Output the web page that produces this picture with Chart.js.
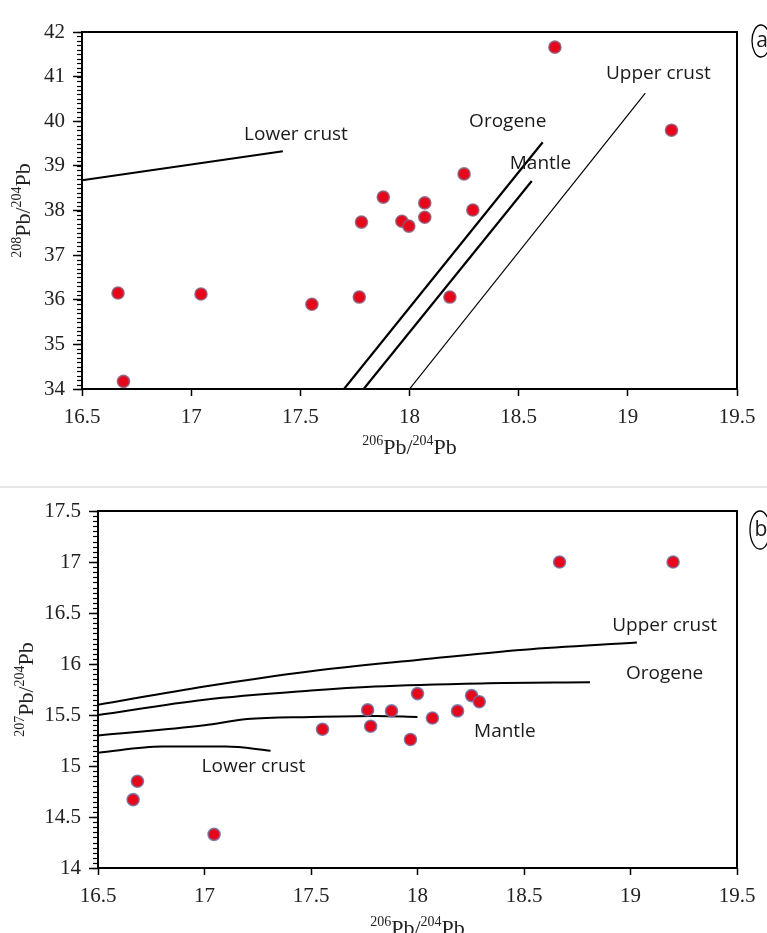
<!DOCTYPE html>
<html>
<head>
<meta charset="utf-8">
<script src="https://cdn.jsdelivr.net/npm/chart.js@4.4.1/dist/chart.umd.min.js"></script>
<style>
  html, body { margin: 0; padding: 0; background: #fff; }
  body { width: 767px; height: 933px; position: relative; overflow: hidden; }
  canvas { position: absolute; left: 0; }
  #chart-a { top: 0; }
  #chart-b { top: 490px; }
  #divider { position: absolute; left: 0; top: 486px; width: 767px; height: 2px; background: #e6e6e6; }
</style>
</head>
<body>
<canvas id="chart-a" width="767" height="470"></canvas>
<div id="divider"></div>
<canvas id="chart-b" width="767" height="443"></canvas>
<script>
// ---- panel (a): 208Pb/204Pb vs 206Pb/204Pb ----
const sampleX_a = [16.665, 16.69, 17.045, 17.553, 17.77, 17.78, 17.88, 17.965, 17.997, 18.07, 18.07, 18.25, 18.29, 18.185, 18.666, 19.20];
const sampleY_a = [36.15, 34.17, 36.13, 35.90, 36.06, 37.74, 38.30, 37.76, 37.65, 38.17, 37.85, 38.82, 38.01, 36.06, 41.66, 39.80];

const lowerCrustX_a = [16.5, 17.0, 17.42];
const lowerCrustY_a = [38.68, 39.03, 39.33];
const orogeneX_a = [17.70, 18.61];
const orogeneY_a = [34.0, 39.53];
const mantleX_a = [17.79, 18.56];
const mantleY_a = [34.0, 38.66];
const upperCrustX_a = [18.0, 19.08];
const upperCrustY_a = [34.0, 40.63];

// ---- panel (b): 207Pb/204Pb vs 206Pb/204Pb ----
const sampleX_b = [16.665, 16.685, 17.045, 17.554, 17.766, 17.78, 17.878, 18.0, 17.967, 18.07, 18.188, 18.254, 18.29, 18.667, 19.20];
const sampleY_b = [14.67, 14.85, 14.33, 15.36, 15.55, 15.39, 15.54, 15.71, 15.26, 15.47, 15.54, 15.69, 15.63, 17.00, 17.00];

const upperCrustX_b = [16.5, 17.0, 17.5, 18.0, 18.5, 19.03];
const upperCrustY_b = [15.60, 15.78, 15.93, 16.04, 16.14, 16.21];
const orogeneX_b = [16.5, 17.0, 17.5, 17.8, 18.3, 18.81];
const orogeneY_b = [15.50, 15.65, 15.74, 15.78, 15.81, 15.82];
const mantleX_b = [16.5, 17.0, 17.2, 17.5, 17.8, 18.0];
const mantleY_b = [15.30, 15.40, 15.46, 15.48, 15.49, 15.48];
const lowerCrustX_b = [16.5, 16.8, 17.1, 17.31];
const lowerCrustY_b = [15.13, 15.19, 15.19, 15.15];

const xMin = 16.5, xMax = 19.5, xStep = 0.5;

const pts = (xs, ys) => xs.map((x, i) => ({ x: x, y: ys[i] }));
const plain = v => String(+v.toFixed(2));

const serif = '"Liberation Serif", "Times New Roman", serif';
const sans = '"Open Sans", "Noto Sans", sans-serif';

function samples(xs, ys, edge) {
  return {
    data: pts(xs, ys),
    backgroundColor: '#e8061b',
    borderColor: edge,
    borderWidth: 1.6,
    pointRadius: 6,
    showLine: false
  };
}

function curve(xs, ys, width, smooth) {
  return {
    data: pts(xs, ys),
    showLine: true,
    borderColor: '#000',
    borderWidth: width,
    pointRadius: 0,
    tension: smooth ? 0.4 : 0,
    cubicInterpolationMode: smooth ? 'monotone' : 'default'
  };
}

// box round the plot
const frame = {
  id: 'frame',
  afterDraw(chart) {
    const { ctx, chartArea: a } = chart;
    ctx.save();
    ctx.strokeStyle = '#000';
    ctx.lineWidth = 2;
    ctx.strokeRect(a.left, a.top, a.right - a.left, a.bottom - a.top);
    ctx.restore();
  }
};

// small ticks on the y axis
const minorTicks = {
  id: 'minorTicks',
  afterDraw(chart, args, opts) {
    const { ctx, chartArea: a } = chart;
    const y = chart.scales.y;
    const n = Math.round((y.max - y.min) / opts.step);
    ctx.save();
    ctx.strokeStyle = '#000';
    ctx.lineWidth = 1.2;
    for (let i = 0; i <= n; i++) {
      const py = Math.round(y.getPixelForValue(y.min + i * opts.step)) + 0.5;
      ctx.beginPath();
      ctx.moveTo(a.left - opts.len, py);
      ctx.lineTo(a.left, py);
      ctx.stroke();
    }
    ctx.restore();
  }
};

// "208Pb/204Pb" style titles with superscripts
function drawRatio(ctx, parts, cx, baseY) {
  const big = '22px ' + serif, small = '14px ' + serif;
  let w = 0;
  parts.forEach(p => { ctx.font = p.sup ? small : big; w += ctx.measureText(p.t).width; });
  let x = cx - w / 2;
  ctx.textAlign = 'left';
  ctx.textBaseline = 'alphabetic';
  parts.forEach(p => {
    ctx.font = p.sup ? small : big;
    ctx.fillText(p.t, x, p.sup ? baseY - 9 : baseY);
    x += ctx.measureText(p.t).width;
  });
}

const titles = {
  id: 'titles',
  afterDraw(chart, args, opts) {
    const { ctx, chartArea: a } = chart;
    ctx.save();
    ctx.fillStyle = '#222';
    drawRatio(ctx, opts.xParts, (a.left + a.right) / 2, a.bottom + opts.xDrop);
    ctx.translate(opts.yBase, (a.top + a.bottom) / 2);
    ctx.rotate(-Math.PI / 2);
    drawRatio(ctx, opts.yParts, 0, 0);
    ctx.restore();
  }
};

// reservoir names and panel tag
const notes = {
  id: 'notes',
  afterDatasetsDraw(chart, args, opts) {
    const { ctx, chartArea: a } = chart;
    const x = chart.scales.x, y = chart.scales.y;
    ctx.save();
    ctx.fillStyle = '#1a1a1a';
    ctx.textAlign = 'center';
    ctx.textBaseline = 'middle';
    ctx.font = '19px ' + sans;
    opts.items.forEach(it => ctx.fillText(it.text, x.getPixelForValue(it.x), y.getPixelForValue(it.y)));
    const cx = a.right + opts.tagDx, cy = a.top + opts.tagDy;
    ctx.strokeStyle = '#000';
    ctx.lineWidth = 1.3;
    ctx.beginPath();
    ctx.ellipse(cx, cy, opts.tagRx, opts.tagRy, 0, 0, Math.PI * 2);
    ctx.stroke();
    ctx.font = '21px ' + sans;
    ctx.fillText(opts.tag, cx + 1, cy);
    ctx.restore();
  }
};

function makeChart(canvasId, cfg) {
  return new Chart(document.getElementById(canvasId), {
    type: 'scatter',
    data: { datasets: cfg.datasets },
    options: {
      responsive: false,
      animation: false,
      events: [],
      layout: { padding: { top: cfg.padTop, right: 30, left: 0, bottom: 0 } },
      plugins: {
        legend: { display: false },
        tooltip: { enabled: false },
        minorTicks: { step: cfg.minorStep, len: 5 },
        titles: cfg.titles,
        notes: cfg.notes
      },
      scales: {
        x: {
          type: 'linear', min: xMin, max: xMax,
          border: { display: false },
          grid: { drawOnChartArea: false, tickLength: 7, tickColor: '#000', tickWidth: 1.5 },
          ticks: { stepSize: xStep, color: '#222', padding: 9, callback: plain, font: { family: serif, size: 21 } },
          afterFit: s => { s.height = cfg.xHeight; }
        },
        y: {
          type: 'linear', min: cfg.yMin, max: cfg.yMax,
          border: { display: false },
          grid: { drawOnChartArea: false, tickLength: 9, tickColor: '#000', tickWidth: 1.5 },
          ticks: { stepSize: cfg.yStep, color: '#222', padding: 8, callback: plain, font: { family: serif, size: 21 } },
          afterFit: s => { s.width = cfg.yWidth; }
        }
      }
    },
    plugins: [minorTicks, frame, titles, notes]
  });
}

const xTitle = [{ t: '206', sup: true }, { t: 'Pb/', sup: false }, { t: '204', sup: true }, { t: 'Pb', sup: false }];

makeChart('chart-a', {
  datasets: [
    samples(sampleX_a, sampleY_a, 'rgba(140,90,120,0.85)'),
    curve(lowerCrustX_a, lowerCrustY_a, 2, false),
    curve(orogeneX_a, orogeneY_a, 2.2, false),
    curve(mantleX_a, mantleY_a, 2.2, false),
    curve(upperCrustX_a, upperCrustY_a, 1.2, false)
  ],
  yMin: 34, yMax: 42, yStep: 1, minorStep: 0.1,
  padTop: 32, xHeight: 81, yWidth: 82,
  titles: {
    xParts: xTitle, xDrop: 65, yBase: 30,
    yParts: [{ t: '208', sup: true }, { t: 'Pb/', sup: false }, { t: '204', sup: true }, { t: 'Pb', sup: false }]
  },
  notes: {
    items: [
      { text: 'Lower crust', x: 17.48, y: 39.69 },
      { text: 'Orogene', x: 18.45, y: 40.0 },
      { text: 'Mantle', x: 18.60, y: 39.04 },
      { text: 'Upper crust', x: 19.14, y: 41.06 }
    ],
    tag: 'a', tagDx: 24, tagDy: 9, tagRx: 9, tagRy: 16
  }
});

makeChart('chart-b', {
  datasets: [
    samples(sampleX_b, sampleY_b, 'rgba(110,110,160,0.85)'),
    curve(upperCrustX_b, upperCrustY_b, 2, true),
    curve(orogeneX_b, orogeneY_b, 2, true),
    curve(mantleX_b, mantleY_b, 2, true),
    curve(lowerCrustX_b, lowerCrustY_b, 2, true)
  ],
  yMin: 14, yMax: 17.5, yStep: 0.5, minorStep: 0.05,
  padTop: 21, xHeight: 65, yWidth: 98,
  titles: {
    xParts: xTitle, xDrop: 67, yBase: 33,
    yParts: [{ t: '207', sup: true }, { t: 'Pb/', sup: false }, { t: '204', sup: true }, { t: 'Pb', sup: false }]
  },
  notes: {
    items: [
      { text: 'Lower crust', x: 17.23, y: 14.99 },
      { text: 'Upper crust', x: 19.16, y: 16.38 },
      { text: 'Orogene', x: 19.16, y: 15.91 },
      { text: 'Mantle', x: 18.41, y: 15.34 }
    ],
    tag: 'b', tagDx: 23, tagDy: 19, tagRx: 10, tagRy: 19
  }
});
</script>
</body>
</html>
